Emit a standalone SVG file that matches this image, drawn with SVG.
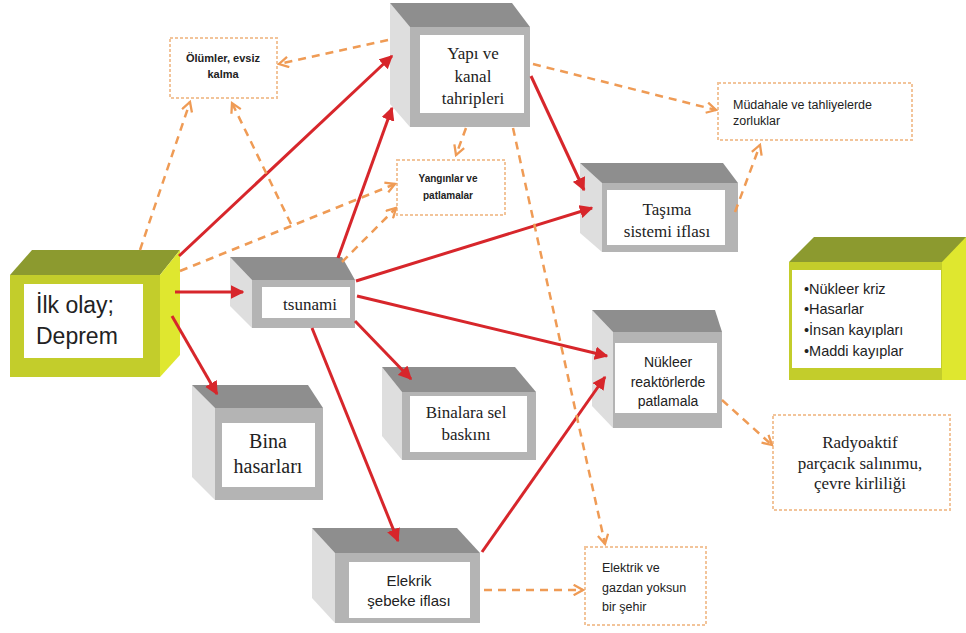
<svg xmlns="http://www.w3.org/2000/svg" width="966" height="633" viewBox="0 0 966 633">
<defs>
<marker id="ar" viewBox="0 0 10 10" refX="9" refY="5" markerWidth="4.5" markerHeight="4.5" orient="auto" markerUnits="strokeWidth">
<path d="M0,0 L10,5 L0,10 z" fill="#d7262b"/>
</marker>
<marker id="ao" viewBox="0 0 12 12" refX="10" refY="6" markerWidth="5" markerHeight="5" orient="auto" markerUnits="strokeWidth">
<path d="M1,1 L10,6 L1,11" fill="none" stroke="#ef9b55" stroke-width="2.2"/>
</marker>
</defs>
<style>
.lf{fill:#dedede}
.tp{fill:#8e8e8e}
.fr{fill:#b4b4b4}
.wl{fill:#ffffff}
.ylf{fill:#c3cd2b}
.ytp{fill:#8c9a2f}
.yrt{fill:#dfe72f}
.dbox{fill:#ffffff;stroke:#f2c49a;stroke-width:2;stroke-dasharray:3 2}
.red{fill:none;stroke:#d7262b;stroke-width:3;marker-end:url(#ar)}
.or{fill:none;stroke:#ef9b55;stroke-width:2.5;stroke-dasharray:8 6;marker-end:url(#ao)}
.serif{font-family:"Liberation Serif","Times New Roman",serif;fill:#222;text-anchor:middle}
.sans{font-family:"Liberation Sans",Arial,sans-serif;fill:#222}
.mid{text-anchor:middle}
</style>
<rect width="966" height="633" fill="#ffffff"/>

<g id="n-olumler">
<rect class="dbox" x="170" y="38" width="107" height="60"/>
<text class="sans mid" x="223" y="62" font-size="11" font-weight="bold">Ölümler, evsiz</text>
<text class="sans mid" x="223" y="78" font-size="11" font-weight="bold">kalma</text>
</g>

<g id="n-yanginlar">
<rect class="dbox" x="397" y="160" width="108" height="55"/>
<text class="sans mid" x="448" y="182" font-size="10" font-weight="bold">Yangınlar ve</text>
<text class="sans mid" x="448" y="199" font-size="10" font-weight="bold">patlamalar</text>
</g>

<g id="n-mudahale">
<rect class="dbox" x="718" y="83" width="194" height="57"/>
<text class="sans" x="733" y="109" font-size="12.5">Müdahale ve tahliyelerde</text>
<text class="sans" x="733" y="125" font-size="12.5">zorluklar</text>
</g>

<g id="n-radyoaktif">
<rect class="dbox" x="773" y="415" width="177" height="95"/>
<text class="serif" x="860" y="448" font-size="17">Radyoaktif</text>
<text class="serif" x="860" y="469" font-size="17">parçacık salınımu,</text>
<text class="serif" x="860" y="489" font-size="17">çevre kirliliği</text>
</g>

<g id="n-elektrikgaz">
<rect class="dbox" x="585" y="547" width="121" height="78"/>
<text class="sans" x="602" y="572" font-size="12.5">Elektrik ve</text>
<text class="sans" x="602" y="592" font-size="12.5">gazdan yoksun</text>
<text class="sans" x="602" y="611" font-size="12.5">bir şehir</text>
</g>

<g id="n-deprem">
<polygon class="ytp" points="10,275 32,250 180,250 160,275"/>
<polygon class="yrt" points="160,275 180,250 180,355 160,377"/>
<rect class="ylf" x="10" y="275" width="150" height="102"/>
<rect class="wl" x="24" y="284" width="119" height="74"/>
<text class="sans" x="36" y="313" font-size="23">İlk olay;</text>
<text class="sans" x="36" y="344" font-size="23">Deprem</text>
</g>

<g id="n-ozet">
<polygon class="ytp" points="789,262 814,237 966,237 966,262"/>
<polygon class="yrt" points="942,262 966,237 966,380 942,380"/>
<rect class="ylf" x="789" y="262" width="153" height="118"/>
<rect class="wl" x="792" y="270" width="149" height="98"/>
<text class="sans" x="804" y="294" font-size="14.5">•Nükleer kriz</text>
<text class="sans" x="804" y="314" font-size="14.5">•Hasarlar</text>
<text class="sans" x="804" y="335" font-size="14.5">•İnsan kayıpları</text>
<text class="sans" x="804" y="356" font-size="14.5">•Maddi kayıplar</text>
</g>

<g id="n-yapi">
<polygon class="lf" points="390,3 410,27 410,127 390,104"/>
<polygon class="tp" points="390,3 512,3 530,27 410,27"/>
<rect class="fr" x="410" y="27" width="120" height="100"/>
<rect class="wl" x="420" y="35" width="104" height="78"/>
<text class="serif" x="473" y="59" font-size="17">Yapı ve</text>
<text class="serif" x="473" y="82" font-size="17">kanal</text>
<text class="serif" x="473" y="104" font-size="17">tahripleri</text>
</g>

<g id="n-tasima">
<polygon class="lf" points="580,163 602,183 602,252 580,233"/>
<polygon class="tp" points="580,163 723,163 738,183 602,183"/>
<rect class="fr" x="602" y="183" width="136" height="69"/>
<rect class="wl" x="607" y="190" width="118" height="55"/>
<text class="serif" x="667" y="215" font-size="17">Taşıma</text>
<text class="serif" x="667" y="237" font-size="17">sistemi iflası</text>
</g>

<g id="n-tsunami">
<polygon class="lf" points="230,257 252,280 252,328 230,306"/>
<polygon class="tp" points="230,257 342,257 355,280 252,280"/>
<rect class="fr" x="252" y="280" width="103" height="48"/>
<rect class="wl" x="262" y="287" width="88" height="31"/>
<text class="serif" x="310" y="310" font-size="17">tsunami</text>
</g>

<g id="n-nukleer">
<polygon class="lf" points="592,310 613,332 613,428 592,406"/>
<polygon class="tp" points="592,310 715,310 722,332 613,332"/>
<rect class="fr" x="613" y="332" width="109" height="96"/>
<rect class="wl" x="615" y="343" width="102" height="70"/>
<text class="sans mid" x="668" y="367" font-size="14">Nükleer</text>
<text class="sans mid" x="668" y="387" font-size="14">reaktörlerde</text>
<text class="sans mid" x="668" y="406" font-size="14">patlamala</text>
</g>

<g id="n-binalarasel">
<polygon class="lf" points="382,367 402,392 402,460 382,436"/>
<polygon class="tp" points="382,367 515,367 536,392 402,392"/>
<rect class="fr" x="402" y="392" width="134" height="68"/>
<rect class="wl" x="410" y="396" width="117" height="56"/>
<text class="serif" x="466" y="418" font-size="17">Binalara sel</text>
<text class="serif" x="466" y="440" font-size="17">baskını</text>
</g>

<g id="n-bina">
<polygon class="lf" points="192,385 215,408 215,500 192,477"/>
<polygon class="tp" points="192,385 308,385 323,408 215,408"/>
<rect class="fr" x="215" y="408" width="108" height="92"/>
<rect class="wl" x="222" y="423" width="93" height="64"/>
<text class="serif" x="268" y="448" font-size="20">Bina</text>
<text class="serif" x="268" y="473" font-size="20">hasarları</text>
</g>

<g id="n-elekrik">
<polygon class="lf" points="312,528 335,553 335,623 312,598"/>
<polygon class="tp" points="312,528 457,528 480,553 335,553"/>
<rect class="fr" x="335" y="553" width="145" height="70"/>
<rect class="wl" x="349" y="562" width="121" height="56"/>
<text class="sans mid" x="409" y="586" font-size="15">Elekrik</text>
<text class="sans mid" x="409" y="606" font-size="15">şebeke iflası</text>
</g>

<g id="connectors">
<path class="red" d="M179,256 L392,56"/>
<path class="red" d="M175,292 L243,292"/>
<path class="red" d="M172,316 L217,394"/>
<path class="red" d="M338,258 L392,108"/>
<path class="red" d="M356,281 L592,208"/>
<path class="red" d="M357,296 L607,356"/>
<path class="red" d="M355,321 L411,379"/>
<path class="red" d="M312,328 L398,541"/>
<path class="red" d="M531,76 L584,190"/>
<path class="red" d="M482,552 L605,377"/>

<path class="or" d="M388,40 L279,64"/>
<path class="or" d="M140,250 L190,102"/>
<path class="or" d="M291,224 L232,103"/>
<path class="or" d="M180,271 L395,184"/>
<path class="or" d="M342,262 L396,208"/>
<path class="or" d="M466,128 L456,155"/>
<path class="or" d="M533,64 L716,110"/>
<path class="or" d="M735,212 L760,145"/>
<path class="or" d="M513,128 L605,544"/>
<path class="or" d="M484,590 L583,590"/>
<path class="or" d="M722,400 L772,445"/>
</g>
</svg>
